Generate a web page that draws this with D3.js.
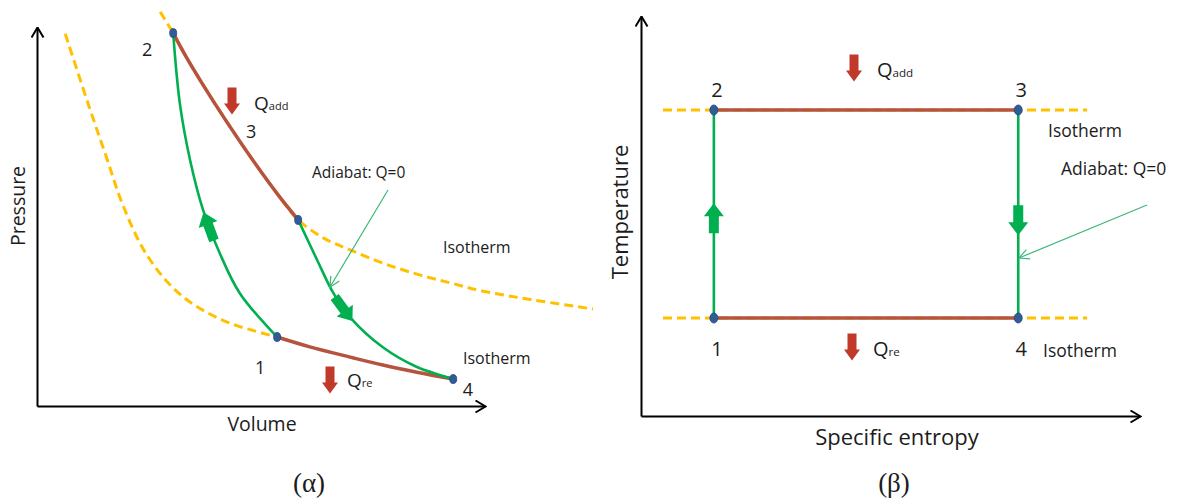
<!DOCTYPE html>
<html>
<head>
<meta charset="utf-8">
<script src="https://cdn.jsdelivr.net/npm/d3@7"></script>
<style>
  body { margin: 0; background: #fff; }
  text { font-family: "Open Sans", sans-serif; fill: #1c1c1c; }
  .greek { font-family: "Liberation Serif", serif; }
</style>
</head>
<body>
<svg id="chart" width="1177" height="500"></svg>
<script>
// ---- (α) pressure-volume diagram ----
// [volume, pressure], both in 0..100 axis units
const pvHotIsotherm = [
  [27.5, 104.0], [30.4, 98.4], [33.3, 92.1], [36.4, 86.0], [42.4, 74.9], [49.1, 63.3],
  [54.2, 55.1], [58.3, 49.1], [64.3, 44.1], [69.9, 41.2], [77.2, 37.7],
  [84.8, 34.8], [92.2, 32.5], [99.6, 30.3], [110.7, 28.0], [124.1, 25.6]
];
const pvColdIsotherm = [
  [6.3, 98.2], [11.8, 78.4], [15.6, 65.3], [19.2, 52.9], [24.6, 39.7],
  [31.9, 29.5], [41.5, 22.6], [53.6, 18.2]
];
const pvHeatAdded = [
  [30.4, 98.4], [33.3, 92.1], [36.4, 86.0], [42.4, 74.9], [49.1, 63.3], [54.2, 55.1], [58.3, 49.1]
];
const pvHeatRejected = [
  [53.6, 18.2], [60.9, 15.6], [69.9, 12.9], [77.2, 10.8], [84.8, 8.9], [92.9, 7.1]
];
const pvCompression = [
  [53.6, 18.2], [45.3, 29.7], [40.8, 40.3], [37.1, 51.6], [34.2, 64.7], [31.9, 79.7], [30.4, 98.4]
];
const pvExpansion = [
  [58.3, 49.1], [62.5, 38.6], [66.1, 29.9], [69.9, 23.4], [77.2, 15.5], [84.8, 10.3], [92.9, 7.1]
];
const pvStates = [
  {id: "1", v: 53.6, p: 18.2, lv: 49.8, lp: 8.5},
  {id: "2", v: 30.4, p: 98.4, lv: 24.6, lp: 92.4},
  {id: "3", v: 58.3, p: 49.1, lv: 47.8, lp: 70.8},
  {id: "4", v: 92.9, p: 7.1, lv: 96.2, lp: 2.6}
];

// ---- (β) temperature-entropy diagram ----
const tsStates = [
  {id: "1", s: 14.6, t: 24.5},
  {id: "2", s: 14.6, t: 76.5},
  {id: "3", s: 75.6, t: 76.5},
  {id: "4", s: 75.6, t: 24.5}
];
const tsIsothermTemps = [24.5, 76.5];
const tsIsothermSpan = [4.4, 89.4];

const green = "#00b050", gold = "#ffc000", brown = "#b5533e", red = "#c0392b", dot = "#2f5d96";

const svg = d3.select("#chart");
const defs = svg.append("defs");

defs.append("marker")
  .attr("id", "axisHead")
  .attr("viewBox", "0 0 12 14")
  .attr("refX", 11).attr("refY", 7)
  .attr("markerWidth", 12).attr("markerHeight", 14)
  .attr("markerUnits", "userSpaceOnUse")
  .attr("orient", "auto")
  .append("path")
  .attr("d", "M1,1 L11,7 L1,13")
  .attr("fill", "none").attr("stroke", "#000").attr("stroke-width", 2);

defs.append("marker")
  .attr("id", "pointerHead")
  .attr("viewBox", "0 0 12 12")
  .attr("refX", 11).attr("refY", 6)
  .attr("markerWidth", 12).attr("markerHeight", 12)
  .attr("markerUnits", "userSpaceOnUse")
  .attr("orient", "auto")
  .append("path")
  .attr("d", "M1,1 L11,6 L1,11")
  .attr("fill", "none").attr("stroke", "#3cb878").attr("stroke-width", 1.2);

const blockArrow = (len, head, hw, sw) =>
  `M${-len / 2},${-sw} L${len / 2 - head},${-sw} L${len / 2 - head},${-hw} L${len / 2},0 ` +
  `L${len / 2 - head},${hw} L${len / 2 - head},${sw} L${-len / 2},${sw}Z`;

const arrowOnPath = (node, frac) => {
  const L = node.getTotalLength();
  const a = node.getPointAtLength(L * frac);
  const b = node.getPointAtLength(L * frac + 1);
  svg.append("path")
    .attr("d", blockArrow(30, 13, 10, 5))
    .attr("fill", green)
    .attr("transform", `translate(${a.x},${a.y}) rotate(${Math.atan2(b.y - a.y, b.x - a.x) * 180 / Math.PI})`);
};

const heatArrow = (x, y) => svg.append("path")
  .attr("d", blockArrow(27, 11, 8, 4.5))
  .attr("fill", red)
  .attr("transform", `translate(${x},${y}) rotate(90)`);

const heatLabel = (x, y, sub, size) => {
  const t = svg.append("text").attr("x", x).attr("y", y).attr("font-size", size);
  t.append("tspan").text("Q");
  t.append("tspan").attr("font-size", size * 0.58).text(sub);
};

// ================= panel α =================
const xV = d3.scaleLinear().domain([0, 100]).range([37, 485]);
const yP = d3.scaleLinear().domain([0, 100]).range([406, 27]);

svg.append("g").attr("transform", `translate(0,${yP(0)})`)
  .call(d3.axisBottom(xV).tickValues([]).tickSizeOuter(0));
svg.append("g").attr("transform", `translate(${xV(0)},0)`)
  .call(d3.axisLeft(yP).tickValues([]).tickSizeOuter(0));

const pvLine = d3.line().x(d => xV(d[0])).y(d => yP(d[1])).curve(d3.curveCatmullRom);

[pvHotIsotherm, pvColdIsotherm].forEach(d => svg.append("path")
  .attr("d", pvLine(d)).attr("fill", "none")
  .attr("stroke", gold).attr("stroke-width", 3).attr("stroke-dasharray", "9,5"));

[pvHeatAdded, pvHeatRejected].forEach(d => svg.append("path")
  .attr("d", pvLine(d)).attr("fill", "none")
  .attr("stroke", brown).attr("stroke-width", 3.5).attr("stroke-linecap", "round"));

const pvAd = [pvCompression, pvExpansion].map(d => svg.append("path")
  .attr("d", pvLine(d)).attr("fill", "none")
  .attr("stroke", green).attr("stroke-width", 2.6).node());
arrowOnPath(pvAd[0], 0.4);
arrowOnPath(pvAd[1], 0.43);

svg.append("line")
  .attr("x1", 388).attr("y1", 190).attr("x2", 330).attr("y2", 287)
  .attr("stroke", "#3cb878").attr("stroke-width", 1.2)
  .attr("marker-end", "url(#pointerHead)");

svg.selectAll(".pvDot").data(pvStates).join("ellipse")
  .attr("cx", d => xV(d.v)).attr("cy", d => yP(d.p))
  .attr("rx", 3.5).attr("ry", 4.5)
  .attr("fill", dot).attr("stroke", "#24497a").attr("stroke-width", 0.8);

svg.selectAll(".pvNum").data(pvStates).join("text")
  .attr("x", d => xV(d.lv)).attr("y", d => yP(d.lp))
  .attr("text-anchor", "middle").attr("font-size", 18).text(d => d.id);

heatArrow(232, 101);
heatLabel(254, 110, "add", 19);
heatArrow(330, 380);
heatLabel(347, 387, "re", 19);

svg.append("text").attr("x", 312).attr("y", 178).attr("font-size", 15.5).text("Adiabat: Q=0");
svg.append("text").attr("x", 443).attr("y", 253).attr("font-size", 16).text("Isotherm");
svg.append("text").attr("x", 463).attr("y", 364).attr("font-size", 16).text("Isotherm");

svg.append("text").attr("x", 262).attr("y", 431).attr("text-anchor", "middle")
  .attr("font-size", 19.5).text("Volume");
svg.append("text").attr("transform", "translate(25,206) rotate(-90)")
  .attr("text-anchor", "middle").attr("font-size", 19.5).text("Pressure");
svg.append("text").attr("class", "greek").attr("x", 309).attr("y", 492)
  .attr("text-anchor", "middle").attr("font-size", 27).text("(α)");

// ================= panel β =================
const xS = d3.scaleLinear().domain([0, 100]).range([641, 1140]);
const yT = d3.scaleLinear().domain([0, 100]).range([416, 16]);

svg.append("g").attr("transform", `translate(0,${yT(0)})`)
  .call(d3.axisBottom(xS).tickValues([]).tickSizeOuter(0));
svg.append("g").attr("transform", `translate(${xS(0)},0)`)
  .call(d3.axisLeft(yT).tickValues([]).tickSizeOuter(0));

svg.selectAll(".tsIso").data(tsIsothermTemps).join("line")
  .attr("x1", xS(tsIsothermSpan[0])).attr("x2", xS(tsIsothermSpan[1]))
  .attr("y1", d => yT(d)).attr("y2", d => yT(d))
  .attr("stroke", gold).attr("stroke-width", 3).attr("stroke-dasharray", "9,5");

const byId = id => tsStates.find(d => d.id === id);
[["2", "3"], ["1", "4"]].forEach(([a, b]) => svg.append("line")
  .attr("x1", xS(byId(a).s)).attr("y1", yT(byId(a).t))
  .attr("x2", xS(byId(b).s)).attr("y2", yT(byId(b).t))
  .attr("stroke", brown).attr("stroke-width", 3.5));

[["1", "2", 0.48], ["3", "4", 0.53]].forEach(([a, b, f]) => {
  const node = svg.append("path")
    .attr("d", d3.line()([[xS(byId(a).s), yT(byId(a).t)], [xS(byId(b).s), yT(byId(b).t)]]))
    .attr("stroke", green).attr("stroke-width", 2.6).node();
  arrowOnPath(node, f);
});

svg.append("line")
  .attr("x1", 1147).attr("y1", 205).attr("x2", 1019).attr("y2", 258)
  .attr("stroke", "#3cb878").attr("stroke-width", 1.2)
  .attr("marker-end", "url(#pointerHead)");

svg.selectAll(".tsDot").data(tsStates).join("ellipse")
  .attr("cx", d => xS(d.s)).attr("cy", d => yT(d.t))
  .attr("rx", 4).attr("ry", 5)
  .attr("fill", dot).attr("stroke", "#24497a").attr("stroke-width", 0.8);

svg.selectAll(".tsNum").data(tsStates).join("text")
  .attr("x", d => xS(d.s) + 3)
  .attr("y", d => d.t > 50 ? yT(d.t) - 13 : yT(d.t) + 38)
  .attr("text-anchor", "middle").attr("font-size", 20).text(d => d.id);

heatArrow(854, 68);
heatLabel(877, 77, "add", 20);
heatArrow(852, 347);
heatLabel(873, 356, "re", 20);

svg.append("text").attr("x", 1048).attr("y", 137).attr("font-size", 17.5).text("Isotherm");
svg.append("text").attr("x", 1061).attr("y", 175).attr("font-size", 17.5).text("Adiabat: Q=0");
svg.append("text").attr("x", 1043).attr("y", 357).attr("font-size", 17.5).text("Isotherm");

svg.append("text").attr("x", 897).attr("y", 445).attr("text-anchor", "middle")
  .attr("font-size", 22).text("Specific entropy");
svg.append("text").attr("transform", "translate(628,212) rotate(-90)")
  .attr("text-anchor", "middle").attr("font-size", 22).text("Temperature");
svg.append("text").attr("class", "greek").attr("x", 894).attr("y", 492)
  .attr("text-anchor", "middle").attr("font-size", 27).text("(β)");

// axis styling
svg.selectAll(".domain")
  .attr("stroke", "#000").attr("stroke-width", 2)
  .attr("marker-end", "url(#axisHead)");
</script>
</body>
</html>
